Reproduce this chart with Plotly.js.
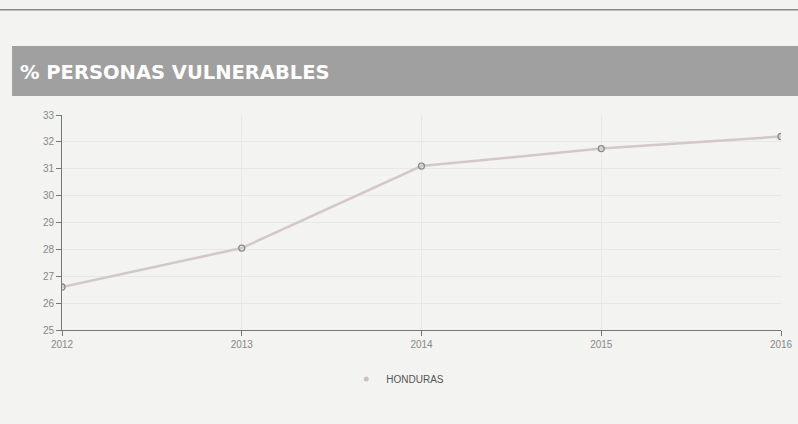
<!DOCTYPE html>
<html><head><meta charset="utf-8">
<script src="https://cdn.plot.ly/plotly-3.0.1.min.js"></script>
<style>html,body{margin:0;padding:0;background:#f3f3f2;}</style>
</head><body>
<div id="chart" style="width:798px;height:424px;"></div>
<script>
const years = [2012, 2013, 2014, 2015, 2016];
const honduras = [26.6, 28.05, 31.1, 31.75, 32.2];
const seriesName = "HONDURAS";
const titleText = "% PERSONAS VULNERABLES";
const yTicks = [25, 26, 27, 28, 29, 30, 31, 32, 33];

const lineStyle = {color: '#d2c8ca', width: 2.5};
const markerStyle = {symbol: 'circle-open', size: 6, color: '#8a8a8a', line: {width: 1.3}};
const trace = {
  x: years, y: honduras, name: seriesName, type: 'scatter', mode: 'lines+markers',
  line: lineStyle, marker: markerStyle, showlegend: false, legendgroup: 'h'
};
const legendEntry = {
  x: [null], y: [null], name: seriesName, type: 'scatter', mode: 'markers',
  marker: {symbol: 'circle', size: 5, color: '#c9c3c4'}, showlegend: true, legendgroup: 'h'
};
const layout = {
  width: 798, height: 424,
  paper_bgcolor: '#f3f3f2', plot_bgcolor: '#f3f3f2',
  margin: {l: 62, r: 17, t: 115, b: 94},
  font: {family: 'Liberation Sans, Arial, sans-serif', color: '#888', size: 10},
  showlegend: true,
  legend: {orientation: 'h', x: 0.467, xanchor: 'center', y: -0.16, yanchor: 'top', font: {size: 10, color: '#555'}},
  xaxis: {range: [2012, 2016], tickvals: years, ticktext: years.map(String), showline: true, linecolor: '#777', linewidth: 1,
    ticks: 'outside', ticklen: 5, tickcolor: '#777', showgrid: true, gridcolor: '#e7e7e7', zeroline: false},
  yaxis: {range: [25, 33], tickvals: yTicks, showline: true, linecolor: '#777', linewidth: 1,
    ticks: 'outside', ticklen: 5, tickcolor: '#777', showgrid: true, gridcolor: '#e7e7e7', zeroline: false},
  shapes: [
    {type: 'rect', xref: 'paper', yref: 'paper', x0: -0.0695, x1: 1.03, y0: 1.088, y1: 1.321, fillcolor: '#a0a0a0', line: {width: 0}, layer: 'below'},
    {type: 'line', xref: 'paper', yref: 'paper', x0: -0.09, x1: 1.03, y0: 1.49, y1: 1.49, line: {color: '#8a8a8a', width: 1.5}}
  ],
  annotations: [
    {text: '<b>' + titleText + '</b>', xref: 'paper', yref: 'paper', x: -0.0612, y: 1.2, xanchor: 'left', yanchor: 'middle', showarrow: false,
     font: {family: 'DejaVu Sans, sans-serif', size: 19.5, color: '#ffffff'}}
  ]
};
Plotly.newPlot('chart', [trace, legendEntry], layout, {displayModeBar: false, staticPlot: true});
</script>
</body></html>
